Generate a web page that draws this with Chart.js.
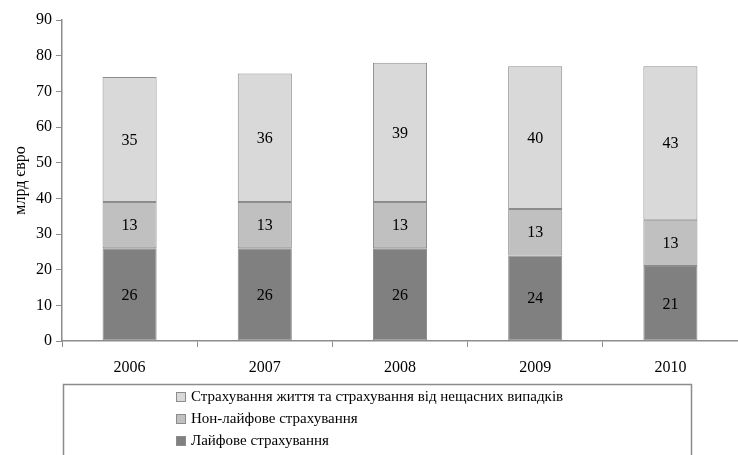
<!DOCTYPE html>
<html>
<head>
<meta charset="utf-8">
<script src="https://cdn.jsdelivr.net/npm/chart.js@4"></script>
<style>
    body { margin: 0; background: #fff; }
    #wrap { width: 738px; height: 455px; }
</style>
</head>
<body>
<div id="wrap"><canvas id="barChart" width="738" height="455"></canvas></div>
<script>
const ctx_bar = document.querySelector('#barChart').getContext('2d');

const years = ['2006', '2007', '2008', '2009', '2010'];

// млрд євро по роках
const life = [26, 26, 26, 24, 21];
const nonLife = [13, 13, 13, 13, 13];
const lifeAccident = [35, 36, 39, 40, 43];

const series_names = [
    'Лайфове страхування',
    'Нон-лайфове страхування',
    'Страхування життя та страхування від нещасних випадків',
];

const y_ticks = [0, 10, 20, 30, 40, 50, 60, 70, 80, 90];

const color_lst = ['#808080', '#c0c0c0', '#d9d9d9'];
const font_serif = "'Liberation Serif', 'Times New Roman', serif";

let datasets = [life, nonLife, lifeAccident].map((values, i) => ({
    label: series_names[i],
    data: values,
    backgroundColor: color_lst[i],
    borderColor: '#8c8c8c',
    borderWidth: 1,
    borderSkipped: false,
    categoryPercentage: 1,
    barPercentage: 0.4,
}));

// підписи значень у центрі кожного сегмента
const valueLabels = {
    id: 'valueLabels',
    afterDatasetsDraw(chart) {
        const c = chart.ctx;
        c.save();
        c.font = '16px ' + font_serif;
        c.fillStyle = '#000';
        c.textAlign = 'center';
        c.textBaseline = 'middle';
        chart.data.datasets.forEach((ds, i) => {
            chart.getDatasetMeta(i).data.forEach((bar, j) => {
                const mid = (bar.y + bar.base) / 2;
                c.fillText(ds.data[j], bar.x, mid + 1);
            });
        });
        c.restore();
    }
};

// легенда в рамці під графіком, по одному рядку на серію
const boxLegend = {
    id: 'boxLegend',
    afterDraw(chart) {
        const c = chart.ctx;
        c.save();
        c.strokeStyle = '#8c8c8c';
        c.lineWidth = 1.5;
        c.beginPath();
        c.moveTo(63.5, 460);
        c.lineTo(63.5, 384.5);
        c.lineTo(691.5, 384.5);
        c.lineTo(691.5, 460);
        c.stroke();

        c.font = '15px ' + font_serif;
        c.textBaseline = 'middle';
        c.textAlign = 'left';
        const items = chart.data.datasets.slice().reverse();
        items.forEach((ds, k) => {
            const y = 397 + k * 22;
            c.fillStyle = ds.backgroundColor;
            c.fillRect(177, y - 4, 8, 8);
            c.strokeStyle = '#8c8c8c';
            c.lineWidth = 1;
            c.strokeRect(176.5, y - 4.5, 9, 9);
            c.fillStyle = '#000';
            c.fillText(ds.label, 191, y);
        });
        c.restore();
    }
};

const config_bar = {
    type: 'bar',
    data: {
        labels: years,
        datasets: datasets,
    },
    options: {
        responsive: false,
        animation: false,
        layout: {
            padding: { top: 20, right: 0, bottom: 74, left: 0 }
        },
        plugins: {
            legend: { display: false },
            tooltip: { enabled: false },
        },
        scales: {
            x: {
                stacked: true,
                offset: true,
                grid: {
                    offset: true,
                    drawOnChartArea: false,
                    tickLength: 6,
                    color: '#8c8c8c',
                },
                border: { color: '#8c8c8c', width: 1.5 },
                ticks: {
                    color: '#000',
                    padding: 11,
                    font: { family: font_serif, size: 16 },
                },
                afterFit(scale) { scale.height = 40; },
            },
            y: {
                stacked: true,
                min: 0,
                max: 90,
                afterBuildTicks(scale) {
                    scale.ticks = y_ticks.map(v => ({ value: v }));
                },
                grid: {
                    drawOnChartArea: false,
                    tickLength: 6,
                    color: '#8c8c8c',
                },
                border: { color: '#8c8c8c', width: 1.5 },
                ticks: {
                    color: '#000',
                    padding: 4,
                    font: { family: font_serif, size: 16 },
                },
                title: {
                    display: true,
                    text: 'млрд євро',
                    color: '#000',
                    font: { family: font_serif, size: 16 },
                    padding: { top: 11, bottom: 0 },
                },
                afterFit(scale) { scale.width = 62; },
            },
        },
    },
    plugins: [valueLabels, boxLegend],
};

new Chart(ctx_bar, config_bar);
</script>
</body>
</html>
